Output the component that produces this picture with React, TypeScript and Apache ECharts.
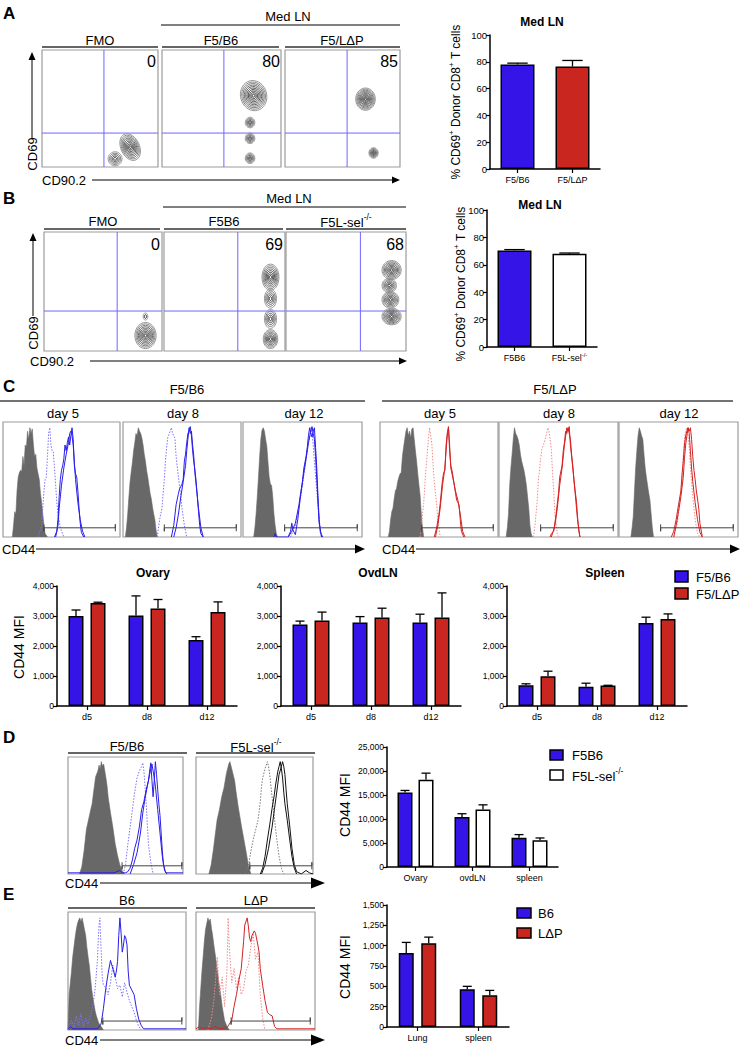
import React, { useEffect, useRef } from "react";
import * as echarts from "echarts";

const FONT = "'Liberation Sans', Arial, Helvetica, sans-serif";
const BLUE = "#3414e6";
const RED = "#c9261f";
const WHITE = "#ffffff";
const HBLUE = "#2a1ee8";
const HBLUE_DOT = "#7a72ff";
const HRED = "#d42222";
const HRED_DOT = "#f08a8a";
const HGRAY = "#686868";
const QUAD = "#6f66ff";

// ---------------- Panel A / B bar data ----------------
const aCats = ["F5/B6", "F5/LΔP"];
const aMeans = [78, 76.5];
const aErrs = [1, 4.5];
const bCats = ["F5B6", "F5L-sel-/-"];
const bMeans = [70.5, 68];
const bErrs = [0.6, 0.6];

// ---------------- Panel C bar data ----------------
const cDays = ["d5", "d8", "d12"];
const ovaryB6 = [3000, 3020, 2200];
const ovaryB6Err = [200, 650, 110];
const ovaryLdP = [3430, 3250, 3130];
const ovaryLdPErr = [30, 300, 340];
const ovdlnB6 = [2720, 2780, 2780];
const ovdlnB6Err = [110, 200, 280];
const ovdlnLdP = [2850, 2950, 2950];
const ovdlnLdPErr = [280, 310, 820];
const spleenB6 = [690, 640, 2770];
const spleenB6Err = [50, 120, 190];
const spleenLdP = [990, 680, 2900];
const spleenLdPErr = [170, 10, 170];

// ---------------- Panel D bar data ----------------
const dCats = ["Ovary", "ovdLN", "spleen"];
const dF5B6 = [15500, 10400, 6100];
const dF5B6Err = [450, 700, 650];
const dF5Lsel = [18200, 12000, 5550];
const dF5LselErr = [1350, 950, 500];

// ---------------- Panel E bar data ----------------
const eCats = ["Lung", "spleen"];
const eB6 = [910, 465];
const eB6Err = [130, 35];
const eLdP = [1030, 390];
const eLdPErr = [75, 60];

// ---------------- Contour blobs [cx, cy, rx, ry, rings, rotationDeg] ----------------
const aFmoBlobs = [[76, 17, 8, 12, 9, -25], [63, 7, 6, 6, 5, 0]];
const aB6Blobs = [[77, 61, 11, 13, 10, -15], [74, 38, 4, 4.5, 5, 0], [74, 24.5, 4, 4.5, 5, 0], [74, 7.5, 4, 4.5, 5, 0]];
const aLdPBlobs = [[70, 58, 8.5, 9.5, 10, 0], [77, 12, 4, 4.5, 6, 0]];
const bFmoBlobs = [[86, 13, 9, 11, 9, 0], [86, 29, 2, 3, 2, 0]];
const bB6Blobs = [[88, 62, 7, 11, 8, 0], [88, 44, 5, 8, 5, 0], [88, 27, 5, 8, 5, 0], [88, 10, 6, 8, 7, 0]];
const bLselBlobs = [[88, 68, 8, 8, 8, 0], [86, 55, 6, 6, 6, 0], [87, 43, 7, 7, 7, 0], [88, 29, 8, 7, 8, 0]];

// ---------------- Histograms, panel C F5/B6 ----------------
const cB6d5Gray = [[8,0],[9,10],[10,22],[11,20],[12,40],[13,52],[14,56],[15,58],[16,57],[17,70],[18,62],[19,80],[20,78],[21,92],[22,85],[23,95],[24,90],[25,94],[26,80],[27,70],[28,72],[29,60],[30,55],[31,50],[32,38],[33,30],[34,20],[35,10],[36,3],[38,0]];
const cB6d5Dot = [[30,0],[33,10],[35,40],[36,50],[37,52],[38,70],[39,90],[40,95],[41,80],[42,75],[43,74],[44,60],[45,45],[46,30],[47,20],[49,8],[52,0]];
const cB6d5A = [[44,0],[46,5],[47,15],[48,35],[49,50],[50,58],[51,62],[52,68],[53,80],[54,75],[55,82],[56,87],[57,80],[58,88],[59,95],[60,85],[61,62],[62,55],[63,52],[64,40],[65,25],[66,12],[67,4],[69,0]];
const cB6d5B = [[45,0],[47,10],[48,25],[50,45],[52,60],[54,72],[56,82],[57,90],[58,92],[59,88],[60,80],[61,65],[62,50],[63,40],[64,30],[66,15],[68,5],[70,0]];

const cB6d8Gray = [[2,0],[3,8],[4,20],[5,35],[6,48],[7,57],[8,65],[9,75],[10,82],[11,90],[12,88],[13,95],[14,92],[15,90],[16,86],[17,80],[18,72],[19,66],[20,58],[21,52],[22,45],[23,38],[24,33],[25,26],[26,20],[27,15],[28,6],[29,0]];
const cB6d8Dot = [[29,0],[31,15],[33,25],[35,50],[36,66],[37,78],[38,87],[40,92],[41,95],[42,90],[44,86],[45,70],[47,52],[49,35],[50,25],[52,10],[54,0]];
const cB6d8A = [[41,0],[43,10],[45,28],[47,38],[48,42],[50,46],[51,50],[52,66],[53,72],[54,82],[55,90],[56,92],[57,96],[58,88],[59,75],[60,65],[61,58],[62,48],[63,35],[64,22],[65,10],[66,3],[68,0]];
const cB6d8B = [[43,0],[45,8],[47,20],[49,35],[51,48],[53,62],[54,75],[55,85],[56,95],[57,90],[58,92],[59,80],[60,70],[61,55],[62,45],[64,25],[66,8],[68,0]];

const cB6d12Gray = [[9,0],[10,8],[11,20],[12,35],[13,52],[14,70],[15,85],[16,93],[17,95],[18,92],[19,85],[20,79],[21,65],[22,52],[23,46],[24,45],[25,35],[26,20],[27,10],[28,3],[29,0]];
const cB6d12Dot = [[40,0],[44,10],[47,25],[50,45],[52,60],[54,75],[56,88],[57,95],[58,90],[59,80],[60,65],[62,40],[64,15],[66,0]];
const cB6d12A = [[26,0],[27,3],[28,0],[38,0],[40,5],[41,12],[42,6],[44,2],[46,15],[48,33],[50,48],[51,59],[53,70],[54,78],[55,88],[56,95],[57,90],[58,87],[59,92],[60,95],[61,78],[62,60],[63,36],[64,15],[65,4],[67,0]];
const cB6d12B = [[38,0],[41,5],[44,12],[47,28],[49,42],[51,55],[53,68],[55,82],[57,92],[58,96],[59,90],[60,85],[61,70],[62,50],[63,30],[64,12],[66,0]];

// ---------------- Histograms, panel C F5/LΔP ----------------
const cLdPd5Gray = [[7,0],[8,5],[9,15],[10,22],[11,25],[12,33],[13,40],[14,42],[15,48],[16,52],[17,55],[18,56],[19,70],[20,78],[21,85],[22,92],[23,95],[24,88],[25,92],[26,86],[27,94],[28,95],[29,85],[30,75],[31,66],[32,55],[33,45],[34,36],[35,20],[36,8],[37,0]];
const cLdPd5Dot = [[34,0],[36,20],[37,29],[38,45],[39,60],[40,72],[41,85],[42,95],[43,88],[44,80],[45,62],[46,48],[47,38],[48,29],[49,15],[51,0]];
const cLdPd5A = [[46,0],[48,8],[50,20],[51,29],[52,40],[53,50],[54,56],[55,58],[56,80],[57,90],[58,95],[59,75],[60,62],[61,58],[62,52],[63,45],[64,38],[65,32],[66,30],[67,28],[68,15],[69,5],[71,0]];
const cLdPd5B = [[47,0],[49,10],[51,25],[53,45],[55,60],[56,75],[57,88],[58,96],[59,80],[60,60],[62,50],[64,40],[66,32],[68,20],[70,5],[72,0]];

const cLdPd8Gray = [[6,0],[7,8],[8,20],[9,45],[10,60],[11,72],[12,85],[13,95],[14,90],[15,88],[16,85],[17,80],[18,72],[19,66],[20,62],[21,58],[22,52],[23,45],[24,35],[25,25],[26,10],[27,3],[28,0]];
const cLdPd8Dot = [[29,0],[30,8],[32,30],[33,48],[35,68],[36,76],[38,82],[40,90],[41,95],[42,92],[43,85],[44,76],[45,55],[46,40],[47,20],[49,3],[50,0]];
const cLdPd8A = [[43,0],[44,3],[46,5],[48,20],[50,38],[51,52],[53,62],[54,75],[55,82],[56,92],[57,90],[58,95],[59,90],[60,85],[61,72],[62,62],[63,50],[64,40],[65,32],[66,18],[67,6],[68,0]];
const cLdPd8B = [[44,0],[47,10],[49,25],[51,45],[53,60],[55,80],[57,95],[58,92],[59,96],[60,80],[62,60],[64,38],[66,15],[68,0]];

const cLdPd12Gray = [[10,0],[11,8],[12,18],[13,40],[14,60],[15,75],[16,88],[17,95],[18,92],[19,88],[20,85],[21,72],[22,60],[23,52],[24,45],[25,38],[26,32],[27,20],[28,8],[29,0]];
const cLdPd12Dot = [[46,0],[49,12],[51,30],[53,50],[54,70],[55,85],[56,93],[57,95],[58,88],[59,78],[60,60],[62,35],[64,15],[66,3],[68,0]];
const cLdPd12A = [[44,0],[46,5],[48,15],[50,28],[52,40],[53,55],[54,66],[55,80],[56,88],[57,92],[58,95],[59,92],[60,95],[61,85],[62,70],[63,58],[64,50],[65,40],[66,33],[67,25],[68,12],[70,0]];
const cLdPd12B = [[46,0],[48,10],[50,22],[52,35],[54,52],[55,68],[56,80],[57,88],[58,95],[59,90],[60,75],[61,60],[62,48],[64,30],[66,15],[68,4],[70,0]];

// ---------------- Histograms, panel D ----------------
const dB6Gray = [[10,0],[12,6],[14,20],[16,38],[18,47],[20,56],[21,60],[22,68],[24,83],[26,88],[27,93],[28,90],[29,96],[30,92],[31,94],[32,88],[33,82],[34,75],[35,65],[37,52],[39,40],[41,26],[43,16],[45,8],[47,3],[49,0]];
const dB6Dot = [[48,0],[50,8],[52,25],[54,40],[56,55],[58,70],[60,82],[62,88],[64,92],[65,95],[66,88],[67,75],[68,60],[69,42],[70,25],[72,10],[74,0]];
const dB6A = [[0,1],[40,1],[45,3],[47,1],[50,1],[52,2],[54,5],[56,12],[58,22],[60,29],[62,40],[64,55],[66,62],[68,72],[70,80],[71,88],[72,95],[73,80],[74,66],[75,80],[76,96],[77,85],[78,72],[79,60],[80,50],[81,35],[82,20],[83,8],[85,1],[100,1]];
const dB6B = [[54,0],[57,8],[60,18],[63,35],[65,52],[67,65],[69,75],[71,85],[72,90],[73,94],[74,88],[75,82],[76,75],[77,65],[78,55],[80,35],[82,15],[84,3],[86,0]];
const dLselGray = [[11,0],[13,8],[15,22],[17,38],[18,46],[20,55],[22,66],[24,74],[26,86],[27,90],[28,94],[29,96],[30,92],[31,88],[32,84],[33,80],[34,72],[35,65],[36,58],[37,52],[39,40],[41,29],[43,18],[45,6],[47,0]];
const dLselDot = [[42,0],[45,8],[47,20],[49,30],[51,38],[53,46],[55,62],[56,75],[57,82],[59,90],[61,96],[62,92],[63,85],[65,66],[67,48],[69,30],[71,15],[73,5],[75,0]];
const dLselA = [[55,0],[57,5],[59,15],[61,29],[63,42],[65,56],[67,68],[68,76],[69,82],[70,88],[71,92],[72,96],[73,90],[74,82],[75,70],[76,60],[78,46],[80,30],[82,15],[84,5],[86,0]];
const dLselB = [[56,0],[59,8],[62,22],[65,40],[67,55],[69,70],[71,85],[73,92],[74,96],[75,92],[76,85],[77,72],[78,60],[80,42],[82,22],[84,8],[86,2],[90,0],[94,3],[97,1],[100,0]];

// ---------------- Histograms, panel E ----------------
const eB6Gray = [[0,0],[1,30],[2,40],[3,50],[4,62],[5,70],[6,78],[7,85],[8,90],[9,93],[10,95],[11,92],[12,95],[13,90],[14,85],[15,80],[16,70],[17,62],[18,55],[19,45],[20,35],[21,28],[22,22],[23,16],[24,12],[26,6],[28,3],[30,0]];
const eB6Dot = [[0,0],[3,8],[5,2],[7,12],[9,4],[11,14],[13,3],[15,10],[17,5],[19,12],[21,20],[23,35],[25,60],[26,85],[27,95],[28,70],[29,45],[30,38],[32,36],[34,30],[36,40],[38,55],[40,45],[42,35],[44,38],[46,28],[48,40],[50,32],[52,25],[54,20],[56,15],[58,8],[60,3],[62,0]];
const eB6Solid = [[0,1],[2,3],[4,1],[25,1],[28,5],[30,18],[32,35],[34,48],[36,59],[38,52],[40,45],[41,50],[42,58],[43,80],[44,95],[45,82],[46,66],[47,72],[48,80],[49,78],[50,72],[51,50],[52,38],[54,34],[56,30],[58,18],[60,9],[62,4],[64,1],[100,1]];
const eLdPGray = [[2,0],[3,20],[4,35],[5,50],[6,62],[7,75],[8,85],[9,90],[10,95],[11,92],[12,94],[13,86],[14,80],[15,72],[16,65],[17,58],[18,50],[19,42],[20,35],[21,28],[22,20],[23,14],[24,8],[26,3],[28,0]];
const eLdPDot = [[10,0],[13,10],[15,25],[17,50],[18,62],[19,40],[20,30],[22,45],[24,20],[26,50],[27,95],[28,70],[30,40],[32,52],[34,35],[36,45],[38,30],[40,35],[42,50],[44,55],[46,70],[48,82],[50,60],[52,66],[54,30],[56,10],[58,0]];
const eLdPSolid = [[0,1],[3,3],[5,1],[8,2],[12,1],[16,3],[20,1],[26,2],[28,5],[30,8],[32,20],[34,30],[36,42],[38,52],[40,75],[41,89],[43,95],[44,88],[45,78],[46,75],[47,80],[49,84],[50,82],[52,72],[53,66],[54,52],[56,38],[58,25],[60,15],[62,13],[64,12],[66,3],[68,1],[100,1]];

// gates [x1, x2, y]
const cGate = [35, 96, 8];
const dB6Gate = [47, 99, 7];
const dLselGate = [46, 99, 7];
const eB6Gate = [29.5, 96.5, 7.6];
const eLdPGate = [29.5, 96, 7.6];

function buildOption() {
  const grids: any[] = [];
  const xAxes: any[] = [];
  const yAxes: any[] = [];
  const series: any[] = [];
  const g: any[] = [];

  const addGrid = (l: number, t: number, w: number, h: number, border: boolean) => {
    grids.push({ left: l, top: t, width: w, height: h, show: border, borderColor: "#9c9c9c", borderWidth: 1.2, backgroundColor: "transparent" });
    return grids.length - 1;
  };
  const hiddenAxes = (gi: number) => {
    xAxes.push({ gridIndex: gi, type: "value", min: 0, max: 100, show: false });
    yAxes.push({ gridIndex: gi, type: "value", min: 0, max: 100, show: false });
  };

  const histPanel = (l: number, t: number, w: number, h: number, curves: { d: number[][]; kind: string; color: string }[], gate: number[]) => {
    const gi = addGrid(l, t, w, h, true);
    hiddenAxes(gi);
    curves.forEach((c) => {
      const s: any = {
        type: "line", xAxisIndex: gi, yAxisIndex: gi, data: c.d, symbol: "none", silent: true,
        lineStyle: { color: c.color, width: c.kind === "fill" ? 0.6 : 1, type: c.kind === "dot" ? [1.5, 1.5] : "solid" },
        z: c.kind === "fill" ? 1 : c.kind === "dot" ? 2 : 3,
      };
      if (c.kind === "fill") s.areaStyle = { color: c.color, opacity: 1 };
      series.push(s);
    });
    const [g1, g2, gy] = gate;
    series.push({
      type: "line", xAxisIndex: gi, yAxisIndex: gi, symbol: "none", silent: true, z: 4,
      data: [[g1, gy + 3], [g1, gy - 3], [g1, gy], [g2, gy], [g2, gy + 3], [g2, gy - 3]],
      lineStyle: { color: "#444", width: 1 },
    });
  };

  const contourPanel = (l: number, t: number, w: number, h: number, qx: number, qy: number, blobs: number[][]) => {
    const gi = addGrid(l, t, w, h, true);
    hiddenAxes(gi);
    series.push({ type: "line", xAxisIndex: gi, yAxisIndex: gi, symbol: "none", silent: true, data: [[qx, 0], [qx, 100]], lineStyle: { color: QUAD, width: 1 } });
    series.push({ type: "line", xAxisIndex: gi, yAxisIndex: gi, symbol: "none", silent: true, data: [[0, qy], [100, qy]], lineStyle: { color: QUAD, width: 1 } });
    series.push({
      type: "custom", xAxisIndex: gi, yAxisIndex: gi, silent: true, clip: true, z: 5,
      data: blobs, encode: { x: 0, y: 1 },
      renderItem: (params: any, api: any) => {
        const cx = api.value(0), cy = api.value(1), rx = api.value(2), ry = api.value(3), n = api.value(4), rot = api.value(5);
        const c = api.coord([cx, cy]);
        const sz = api.size([rx, ry]);
        const a = (rot * Math.PI) / 180;
        const children: any[] = [];
        for (let k = 0; k < n; k++) {
          const f = 1 - k / n;
          const gv = Math.round(150 - 120 * (k / Math.max(1, n - 1)));
          const pts: number[][] = [];
          for (let i = 0; i < 36; i++) {
            const th = (i / 36) * Math.PI * 2;
            const ex = Math.cos(th) * sz[0] * f;
            const ey = Math.sin(th) * sz[1] * f;
            pts.push([c[0] + ex * Math.cos(a) - ey * Math.sin(a), c[1] + ex * Math.sin(a) + ey * Math.cos(a)]);
          }
          children.push({ type: "polygon", shape: { points: pts }, style: { fill: "none", stroke: `rgb(${gv},${gv},${gv})`, lineWidth: 1 } });
        }
        return { type: "group", children };
      },
    });
  };

  const supRich = (fs: number) => ({
    a: { fontSize: fs, fontFamily: FONT, color: "#000", lineHeight: fs * 1.2, verticalAlign: "bottom" },
    s: { fontSize: fs * 0.65, fontFamily: FONT, color: "#000", lineHeight: fs * 0.7, verticalAlign: "top" },
  });

  const barPanel = (
    l: number, t: number, w: number, h: number, cats: string[],
    groups: { vals: number[]; errs: number[]; colors: string[] }[],
    yMax: number, step: number, barW: number, gap: number, xfs: number, yfs: number
  ) => {
    const gi = addGrid(l, t, w, h, false);
    xAxes.push({
      gridIndex: gi, type: "category", data: cats,
      axisLine: { show: true, lineStyle: { color: "#000", width: 1.5 } },
      axisTick: { show: true, alignWithLabel: true, length: 4, lineStyle: { color: "#000", width: 1.2 } },
      axisLabel: {
        show: true, interval: 0, margin: 5, color: "#000",
        formatter: (v: string) => (v.endsWith("-/-") ? `{a|${v.slice(0, -3)}}{s|-/-}` : `{a|${v}}`),
        rich: supRich(xfs),
      },
      splitLine: { show: false },
    });
    yAxes.push({
      gridIndex: gi, type: "value", min: 0, max: yMax, interval: step,
      axisLine: { show: true, lineStyle: { color: "#000", width: 1.5 } },
      axisTick: { show: true, length: 4, lineStyle: { color: "#000", width: 1.2 } },
      axisLabel: { fontSize: yfs, color: "#000", margin: 3, fontFamily: FONT, formatter: (v: number) => v.toLocaleString("en-US") },
      splitLine: { show: false },
    });
    const n = groups.length;
    groups.forEach((grp, k) => {
      const off = n === 1 ? 0 : (k - 0.5) * (barW + gap);
      series.push({
        type: "bar", xAxisIndex: gi, yAxisIndex: gi, barWidth: barW, barGap: `${(gap / barW) * 100}%`, silent: true, z: 2,
        itemStyle: { borderColor: "#000", borderWidth: 1.5 },
        data: grp.vals.map((v, i) => ({ value: v, itemStyle: { color: grp.colors[i], borderColor: "#000", borderWidth: 1.5 } })),
      });
      series.push({
        type: "custom", xAxisIndex: gi, yAxisIndex: gi, silent: true, z: 3,
        data: grp.vals.map((v, i) => [i, v, grp.errs[i]]), encode: { x: 0, y: 1 },
        renderItem: (params: any, api: any) => {
          const i = api.value(0), v = api.value(1), e = api.value(2);
          const b = api.coord([i, v]);
          const tp = api.coord([i, v + e]);
          const x = b[0] + off;
          const cw = barW * 0.3;
          return {
            type: "group",
            children: [
              { type: "line", shape: { x1: x, y1: b[1], x2: x, y2: tp[1] }, style: { stroke: "#000", lineWidth: 1.3 } },
              { type: "line", shape: { x1: x - cw, y1: tp[1], x2: x + cw, y2: tp[1] }, style: { stroke: "#000", lineWidth: 1.3 } },
            ],
          };
        },
      });
    });
  };

  // ---- graphic helpers
  const T = (x: number, y: number, text: string, o: any = {}) => {
    const align = o.align || "center";
    const va = o.va || "middle";
    const style: any = {
      text, fill: o.color || "#000", fontSize: o.fs || 13, fontFamily: FONT, fontWeight: o.bold ? "bold" : "normal",
      align, verticalAlign: va, textAlign: align, textVerticalAlign: va,
    };
    if (o.rich) style.rich = o.rich;
    g.push({ type: "text", x, y, rotation: o.rot || 0, z: 100, silent: true, style });
  };
  const L = (x1: number, y1: number, x2: number, y2: number, color = "#000", w = 1) => {
    g.push({ type: "line", z: 100, silent: true, shape: { x1, y1, x2, y2 }, style: { stroke: color, lineWidth: w } });
  };
  const P = (pts: number[][], color = "#000") => {
    g.push({ type: "polygon", z: 100, silent: true, shape: { points: pts }, style: { fill: color } });
  };
  const R = (x: number, y: number, w: number, h: number, color: string) => {
    g.push({ type: "rect", z: 100, silent: true, shape: { x, y, width: w, height: h }, style: { fill: color, stroke: "#000", lineWidth: 1.5 } });
  };
  const rightArrow = (x1: number, x2: number, y: number, hw: number, hh: number) => {
    L(x1, y, x2 - hw + 1, y, "#000", 1);
    P([[x2, y], [x2 - hw, y - hh], [x2 - hw, y + hh]]);
  };
  const upArrow = (x: number, y1: number, y2: number, hw: number, hh: number) => {
    L(x, y1, x, y2 + hh - 1, "#000", 1);
    P([[x, y2], [x - hw, y2 + hh], [x + hw, y2 + hh]]);
  };

  // ================= Panel A =================
  T(3, 13, "A", { fs: 17, bold: true, align: "left" });
  T(288, 16, "Med LN");
  L(161, 25, 400, 25, "#000", 1);
  T(100, 40, "FMO");
  T(221, 40, "F5/B6");
  T(342, 40, "F5/LΔP");
  L(42, 47, 158, 47, "#666", 2);
  L(162, 47, 279, 47, "#666", 2);
  L(285, 47, 400, 47, "#666", 2);
  contourPanel(42, 50, 116, 117, 53.4, 29, aFmoBlobs);
  contourPanel(162, 50, 119, 117, 52, 29, aB6Blobs);
  contourPanel(285, 50, 115, 117, 54, 29, aLdPBlobs);
  T(156, 61, "0", { fs: 16, align: "right" });
  T(280, 61, "80", { fs: 16, align: "right" });
  T(398, 61, "85", { fs: 16, align: "right" });
  T(32, 154, "CD69", { rot: Math.PI / 2 });
  upArrow(32, 138, 52, 3.5, 8);
  T(42, 180, "CD90.2", { align: "left" });
  rightArrow(92, 400, 180, 8, 3.5);

  barPanel(490, 35, 110, 134, aCats, [{ vals: aMeans, errs: aErrs, colors: [BLUE, RED] }], 100, 20, 34, 0, 9, 9.5);
  T(542, 22, "Med LN", { fs: 12, bold: true });
  T(455, 102, "{a|% CD69}{s|+}{a| Donor CD8}{s|+}{a| T cells}", { rot: Math.PI / 2, rich: supRich(12) });

  // ================= Panel B =================
  T(3, 198, "B", { fs: 17, bold: true, align: "left" });
  T(289, 198, "Med LN");
  L(163, 207, 406, 207, "#000", 1);
  T(103, 221, "FMO");
  T(224, 221, "F5B6");
  T(346, 221, "{a|F5L-sel}{s|-/-}", { rich: supRich(13) });
  L(44, 229, 160, 229, "#666", 2);
  L(164, 229, 283, 229, "#666", 2);
  L(286, 229, 406, 229, "#666", 2);
  contourPanel(44, 232, 118, 119, 62, 33.6, bFmoBlobs);
  contourPanel(164, 232, 121, 119, 61, 33.6, bB6Blobs);
  contourPanel(286, 232, 120, 119, 62, 33.6, bLselBlobs);
  T(160, 244, "0", { fs: 16, align: "right" });
  T(283, 244, "69", { fs: 16, align: "right" });
  T(404, 244, "68", { fs: 16, align: "right" });
  T(33, 333, "CD69", { rot: Math.PI / 2 });
  upArrow(33, 316, 233, 3.5, 8);
  T(30, 361, "CD90.2", { align: "left" });
  rightArrow(90, 407, 361, 8, 3.5);

  barPanel(487, 210, 110, 137, bCats, [{ vals: bMeans, errs: bErrs, colors: [BLUE, WHITE] }], 100, 20, 34, 0, 9, 9.5);
  T(540, 205, "Med LN", { fs: 12, bold: true });
  T(460, 284, "{a|% CD69}{s|+}{a| Donor CD8}{s|+}{a| T cells}", { rot: Math.PI / 2, rich: supRich(12) });

  // ================= Panel C =================
  T(3, 386, "C", { fs: 17, bold: true, align: "left" });
  T(187, 389, "F5/B6");
  T(555, 389, "F5/LΔP");
  L(0, 401, 365, 401, "#444", 1.5);
  L(382, 401, 733, 401, "#444", 1.5);
  const dayX = [63, 183, 304, 440, 559, 679];
  const dayT = ["day 5", "day 8", "day 12", "day 5", "day 8", "day 12"];
  dayX.forEach((x, i) => T(x, 413, dayT[i], { fs: 13 }));

  const CT = 422, CH = 115;
  histPanel(3, CT, 117, CH, [
    { d: cB6d5Gray, kind: "fill", color: HGRAY }, { d: cB6d5Dot, kind: "dot", color: HBLUE_DOT },
    { d: cB6d5A, kind: "solid", color: HBLUE }, { d: cB6d5B, kind: "solid", color: HBLUE }], cGate);
  histPanel(123, CT, 118, CH, [
    { d: cB6d8Gray, kind: "fill", color: HGRAY }, { d: cB6d8Dot, kind: "dot", color: HBLUE_DOT },
    { d: cB6d8A, kind: "solid", color: HBLUE }, { d: cB6d8B, kind: "solid", color: HBLUE }], cGate);
  histPanel(243, CT, 119, CH, [
    { d: cB6d12Gray, kind: "fill", color: HGRAY }, { d: cB6d12Dot, kind: "dot", color: HBLUE_DOT },
    { d: cB6d12A, kind: "solid", color: HBLUE }, { d: cB6d12B, kind: "solid", color: HBLUE }], cGate);
  histPanel(380, CT, 118, CH, [
    { d: cLdPd5Gray, kind: "fill", color: HGRAY }, { d: cLdPd5Dot, kind: "dot", color: HRED_DOT },
    { d: cLdPd5A, kind: "solid", color: HRED }, { d: cLdPd5B, kind: "solid", color: HRED }], cGate);
  histPanel(499, CT, 119, CH, [
    { d: cLdPd8Gray, kind: "fill", color: HGRAY }, { d: cLdPd8Dot, kind: "dot", color: HRED_DOT },
    { d: cLdPd8A, kind: "solid", color: HRED }, { d: cLdPd8B, kind: "solid", color: HRED }], cGate);
  histPanel(619, CT, 119, CH, [
    { d: cLdPd12Gray, kind: "fill", color: HGRAY }, { d: cLdPd12Dot, kind: "dot", color: HRED_DOT },
    { d: cLdPd12A, kind: "solid", color: HRED }, { d: cLdPd12B, kind: "solid", color: HRED }], cGate);

  T(2, 549, "CD44", { align: "left" });
  rightArrow(36, 365, 549, 10, 4.5);
  T(382, 549, "CD44", { align: "left" });
  rightArrow(416, 740, 549, 10, 4.5);

  barPanel(57, 586, 180, 120, cDays, [
    { vals: ovaryB6, errs: ovaryB6Err, colors: [BLUE, BLUE, BLUE] },
    { vals: ovaryLdP, errs: ovaryLdPErr, colors: [RED, RED, RED] }], 4000, 1000, 15, 7, 9, 8.5);
  barPanel(281, 586, 180, 120, cDays, [
    { vals: ovdlnB6, errs: ovdlnB6Err, colors: [BLUE, BLUE, BLUE] },
    { vals: ovdlnLdP, errs: ovdlnLdPErr, colors: [RED, RED, RED] }], 4000, 1000, 15, 7, 9, 8.5);
  barPanel(507, 586, 180, 120, cDays, [
    { vals: spleenB6, errs: spleenB6Err, colors: [BLUE, BLUE, BLUE] },
    { vals: spleenLdP, errs: spleenLdPErr, colors: [RED, RED, RED] }], 4000, 1000, 15, 7, 9, 8.5);
  T(153, 573, "Ovary", { fs: 12, bold: true });
  T(378, 573, "OvdLN", { fs: 12, bold: true });
  T(605, 573, "Spleen", { fs: 12, bold: true });
  T(19, 647, "CD44 MFI", { fs: 14, rot: Math.PI / 2 });
  R(675, 571, 13, 11, BLUE);
  R(675, 588, 13, 11, RED);
  T(696, 577, "F5/B6", { align: "left", fs: 13 });
  T(696, 594, "F5/LΔP", { align: "left", fs: 13 });

  // ================= Panel D =================
  T(3, 737, "D", { fs: 17, bold: true, align: "left" });
  T(127, 746, "F5/B6");
  T(256, 746, "{a|F5L-sel}{s|-/-}", { rich: supRich(13) });
  L(68, 753, 187, 753, "#666", 2);
  L(196, 753, 315, 753, "#666", 2);
  histPanel(68, 757, 115, 117, [
    { d: dB6Gray, kind: "fill", color: HGRAY }, { d: dB6Dot, kind: "dot", color: HBLUE_DOT },
    { d: dB6A, kind: "solid", color: HBLUE }, { d: dB6B, kind: "solid", color: HBLUE }], dB6Gate);
  histPanel(196, 757, 117, 117, [
    { d: dLselGray, kind: "fill", color: HGRAY }, { d: dLselDot, kind: "dot", color: "#777" },
    { d: dLselA, kind: "solid", color: "#111" }, { d: dLselB, kind: "solid", color: "#111" }], dLselGate);
  T(65, 883, "CD44", { align: "left" });
  rightArrow(100, 325, 883, 14, 5.5);

  barPanel(387, 747, 171, 120, dCats, [
    { vals: dF5B6, errs: dF5B6Err, colors: [BLUE, BLUE, BLUE] },
    { vals: dF5Lsel, errs: dF5LselErr, colors: [WHITE, WHITE, WHITE] }], 25000, 5000, 15, 6, 9, 8.5);
  T(345, 805, "CD44 MFI", { fs: 14, rot: Math.PI / 2 });
  R(550, 750, 13, 10, BLUE);
  R(550, 770, 13, 10, WHITE);
  T(572, 755, "F5B6", { align: "left", fs: 13 });
  T(572, 775, "{a|F5L-sel}{s|-/-}", { align: "left", rich: supRich(13) });

  // ================= Panel E =================
  T(3, 894, "E", { fs: 17, bold: true, align: "left" });
  T(127, 900, "B6");
  T(256, 900, "LΔP");
  L(68, 908, 187, 908, "#666", 2);
  L(196, 908, 315, 908, "#666", 2);
  histPanel(68, 912, 118, 118, [
    { d: eB6Gray, kind: "fill", color: HGRAY }, { d: eB6Dot, kind: "dot", color: HBLUE_DOT },
    { d: eB6Solid, kind: "solid", color: HBLUE }], eB6Gate);
  histPanel(196, 912, 119, 118, [
    { d: eLdPGray, kind: "fill", color: HGRAY }, { d: eLdPDot, kind: "dot", color: HRED_DOT },
    { d: eLdPSolid, kind: "solid", color: HRED }], eLdPGate);
  T(65, 1040, "CD44", { align: "left" });
  rightArrow(100, 325, 1040, 14, 5.5);

  barPanel(387, 905, 122, 122, eCats, [
    { vals: eB6, errs: eB6Err, colors: [BLUE, BLUE] },
    { vals: eLdP, errs: eLdPErr, colors: [RED, RED] }], 1500, 250, 15, 7.5, 9, 8.5);
  T(345, 967, "CD44 MFI", { fs: 14, rot: Math.PI / 2 });
  R(517, 908, 14, 10, BLUE);
  R(517, 928, 14, 10, RED);
  T(538, 913, "B6", { align: "left", fs: 13 });
  T(538, 933, "LΔP", { align: "left", fs: 13 });

  return {
    animation: false,
    backgroundColor: "#fff",
    textStyle: { fontFamily: FONT },
    grid: grids,
    xAxis: xAxes,
    yAxis: yAxes,
    series,
    graphic: g,
  };
}

export default function App() {
  const ref = useRef<HTMLDivElement>(null);
  useEffect(() => {
    if (!ref.current) return;
    const chart = echarts.init(ref.current, null, { renderer: "svg" });
    chart.setOption(buildOption() as any);
    return () => chart.dispose();
  }, []);
  return <div ref={ref} style={{ position: "absolute", left: 0, top: 0, width: 747, height: 1048, background: "#fff" }} />;
}
